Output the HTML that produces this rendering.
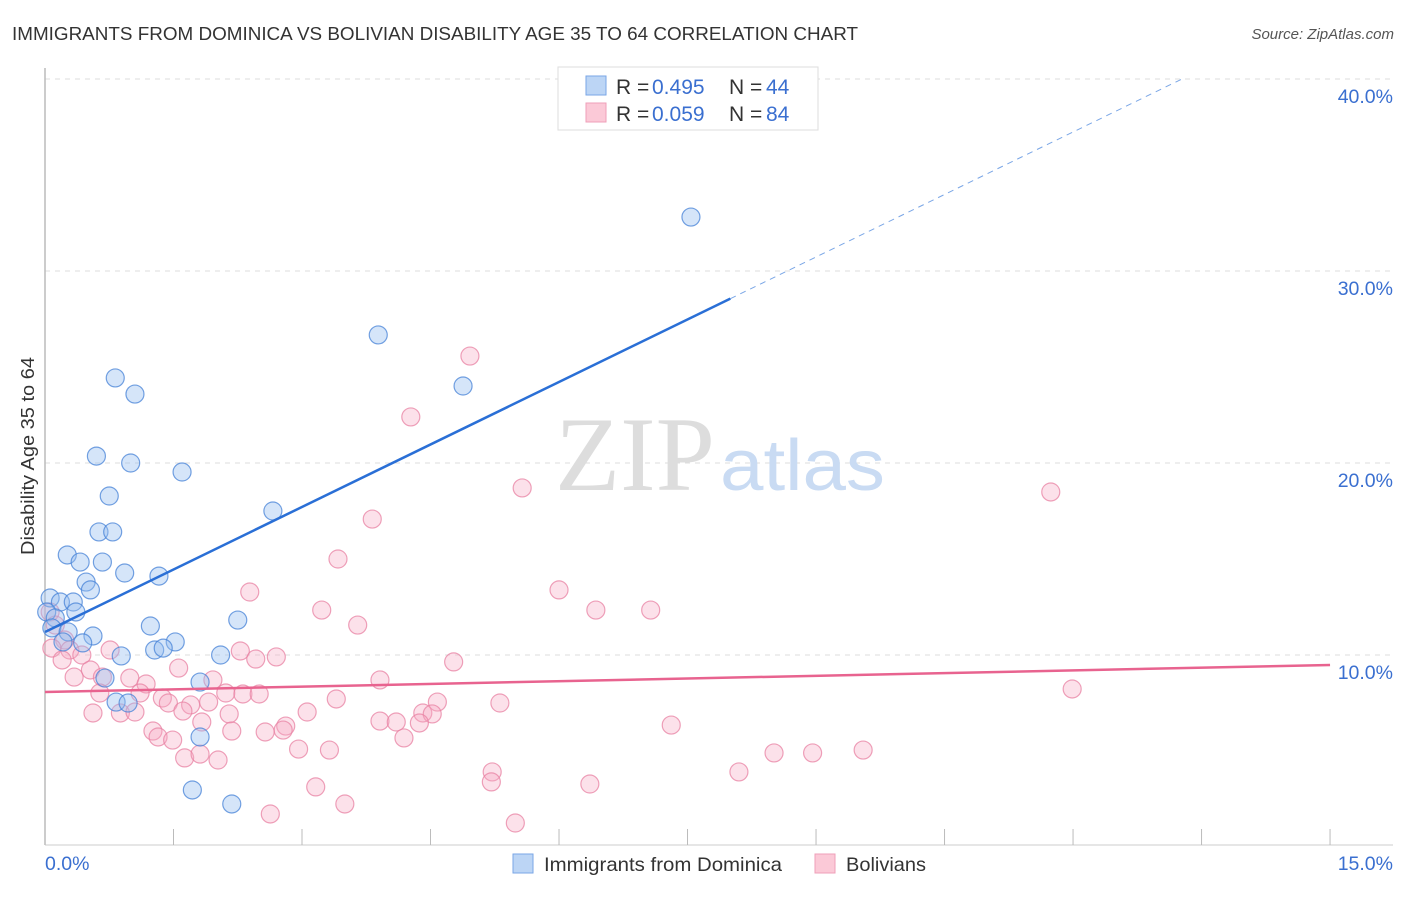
<!DOCTYPE html>
<html><head><meta charset="utf-8"><style>
body{margin:0;background:#fff;font-family:"Liberation Sans",sans-serif;}
svg text{font-family:"Liberation Sans",sans-serif;}
</style></head><body>
<svg id="chart" width="1406" height="892" viewBox="0 0 1406 892">
<text x="12" y="40" font-size="18.5" fill="#333" textLength="846" lengthAdjust="spacingAndGlyphs">IMMIGRANTS FROM DOMINICA VS BOLIVIAN DISABILITY AGE 35 TO 64 CORRELATION CHART</text>
<text x="1394" y="39" font-size="15" fill="#555" font-style="italic" text-anchor="end">Source: ZipAtlas.com</text>
<g id="grid"></g>
<g>
<text x="555" y="490" font-size="106" fill="#ddd" textLength="160" lengthAdjust="spacingAndGlyphs" style="font-family:'Liberation Serif',serif">ZIP</text>
<text x="720" y="490" font-size="72" fill="#c9dbf3" textLength="165" lengthAdjust="spacingAndGlyphs">atlas</text>
</g>
<line x1="45" y1="68" x2="45" y2="845" stroke="#bbb" stroke-width="1.5"/>
<line x1="45" y1="845" x2="1393" y2="845" stroke="#ccc" stroke-width="1"/>
<g id="xticks"></g>
<text x="34" y="456" font-size="18" fill="#333" text-anchor="middle" textLength="198" lengthAdjust="spacingAndGlyphs" transform="rotate(-90 34 456)">Disability Age 35 to 64</text>
<text x="45" y="870" font-size="19.5" fill="#3a6fd0">0.0%</text>
<text x="1393" y="870" font-size="19.5" fill="#3a6fd0" text-anchor="end">15.0%</text>
<g id="points"></g>
<g id="lines"></g>
<g>
<rect x="558" y="67" width="260" height="63" fill="#fff" stroke="#ddd"/>
<rect x="586" y="76" width="20" height="19" fill="#bcd5f5" stroke="#7aa6e6"/>
<rect x="586" y="103" width="20" height="19" fill="#fbc9d7" stroke="#ef9fb8"/>
<text y="94" font-size="21" fill="#333"><tspan x="616">R = </tspan><tspan x="652" fill="#3a6fd0">0.495</tspan><tspan x="729">N = </tspan><tspan x="766" fill="#3a6fd0">44</tspan></text>
<text y="121" font-size="21" fill="#333"><tspan x="616">R = </tspan><tspan x="652" fill="#3a6fd0">0.059</tspan><tspan x="729">N = </tspan><tspan x="766" fill="#3a6fd0">84</tspan></text>
</g>
<g>
<rect x="513" y="854" width="20" height="19" fill="#bcd5f5" stroke="#7aa6e6"/>
<text x="544" y="871" font-size="19.5" fill="#333" textLength="238" lengthAdjust="spacingAndGlyphs">Immigrants from Dominica</text>
<rect x="815" y="854" width="20" height="19" fill="#fbc9d7" stroke="#ef9fb8"/>
<text x="846" y="871" font-size="19.5" fill="#333" textLength="80" lengthAdjust="spacingAndGlyphs">Bolivians</text>
</g>
</svg>
<script>
const yTicks=[10,20,30,40];
const yTickLabels=["10.0%","20.0%","30.0%","40.0%"];
const xTicks=[0,1.5,3,4.5,6,7.5,9,10.5,12,13.5,15];
const blueX=[7.54,3.89,4.88,0.82,1.05,0.60,1.00,1.60,0.75,2.66,0.63,0.79,0.26,0.41,0.67,0.93,1.33,0.48,0.53,0.06,0.18,0.33,0.36,0.02,0.12,2.25,1.23,0.08,0.27,0.56,0.21,0.44,1.52,1.28,1.38,0.89,2.05,0.70,1.81,0.83,0.97,1.81,1.72,2.18];
const blueY=[32.81,26.67,24.01,24.43,23.59,20.36,20.0,19.53,18.28,17.5,16.41,16.41,15.21,14.84,14.84,14.27,14.11,13.80,13.39,12.97,12.76,12.76,12.24,12.24,11.93,11.82,11.51,11.41,11.20,10.99,10.68,10.63,10.68,10.26,10.36,9.95,10.0,8.80,8.59,7.55,7.50,5.73,2.97,2.24];
const pinkX=[4.96,4.27,5.57,11.74,3.82,3.42,6.00,2.39,6.43,7.07,3.23,3.65,0.06,0.12,0.23,0.08,0.29,0.43,0.76,2.28,2.46,2.70,4.77,1.56,0.20,0.53,0.34,0.67,0.99,1.18,1.96,11.99,3.91,0.64,1.11,1.37,2.11,2.31,2.50,4.58,5.31,3.40,1.44,1.70,1.91,1.61,0.56,0.88,1.05,3.06,2.15,4.41,4.52,3.91,4.10,4.37,1.83,2.81,2.78,2.57,1.26,2.18,1.32,1.49,4.19,7.31,2.96,3.32,1.63,1.81,2.02,8.51,8.96,9.55,5.22,8.10,5.21,6.36,3.16,3.50,2.63,5.49];
const pinkY=[25.57,22.40,18.70,18.49,17.08,15.0,13.39,13.28,12.34,12.34,12.34,11.56,12.24,11.56,10.78,10.36,10.26,10.0,10.26,10.21,9.79,9.90,9.64,9.32,9.74,9.22,8.85,8.85,8.80,8.49,8.70,8.23,8.70,8.02,8.02,7.76,8.02,7.97,7.97,7.55,7.50,7.71,7.50,7.40,7.55,7.08,6.98,6.98,7.03,7.03,6.93,6.98,6.93,6.56,6.51,6.46,6.51,6.30,6.09,5.99,6.04,6.04,5.73,5.57,5.68,6.35,5.10,5.05,4.64,4.84,4.53,4.90,4.90,5.05,3.91,3.91,3.39,3.28,3.13,2.24,1.72,1.25];
const blueTrend=[11.2,2.17];
const blueSolidEnd=8.0, blueDashEnd=13.28;
const pinkTrend=[8.07,0.094];
const NS="http://www.w3.org/2000/svg";
const sx=v=>45+v*85.67, sy=v=>847-v*19.2;
function mk(tag,attrs,parent){const e=document.createElementNS(NS,tag);for(const k in attrs)e.setAttribute(k,attrs[k]);parent.appendChild(e);return e;}
const grid=document.getElementById('grid');
yTicks.forEach((t,i)=>{
  const l=mk('line',{x1:45,x2:1393,y1:sy(t),y2:sy(t),stroke:'#ddd','stroke-dasharray':'5,5'},grid);
  
  
  const tx=mk('text',{x:1393,y:sy(t)+24,'font-size':19.5,fill:'#3a6fd0','text-anchor':'end'},grid);
  tx.textContent=yTickLabels[i];
  
  
});
const xt=document.getElementById('xticks');
xTicks.forEach(t=>{
  const l=mk('line',{x1:sx(t),x2:sx(t),y1:829,y2:845,stroke:'#bbb'},xt);
  
  
});
const pts=document.getElementById('points');
pinkX.forEach((x,i)=>{
  const c=mk('circle',{cx:sx(x),cy:sy(pinkY[i]),r:9,fill:'rgba(245,170,195,0.35)',stroke:'rgba(232,130,163,0.75)','stroke-width':1.2},pts);
  
  
});
blueX.forEach((x,i)=>{
  const c=mk('circle',{cx:sx(x),cy:sy(blueY[i]),r:9,fill:'rgba(150,190,240,0.4)',stroke:'rgba(70,130,215,0.75)','stroke-width':1.2},pts);
  
  
});
const ln=document.getElementById('lines');
const bf=x=>blueTrend[0]+blueTrend[1]*x, pf=x=>pinkTrend[0]+pinkTrend[1]*x;
let a=mk('line',{x1:sx(0),y1:sy(bf(0)),x2:sx(blueSolidEnd),y2:sy(bf(blueSolidEnd)),stroke:'#2a6fd6','stroke-width':2.5},ln);


a=mk('line',{x1:sx(blueSolidEnd),y1:sy(bf(blueSolidEnd)),x2:sx(blueDashEnd),y2:sy(bf(blueDashEnd)),stroke:'#7aa6e6','stroke-width':1,'stroke-dasharray':'6,5'},ln);


a=mk('line',{x1:sx(0),y1:sy(pf(0)),x2:sx(15),y2:sy(pf(15)),stroke:'#e8638f','stroke-width':2.5},ln);


</script>
</body></html>
